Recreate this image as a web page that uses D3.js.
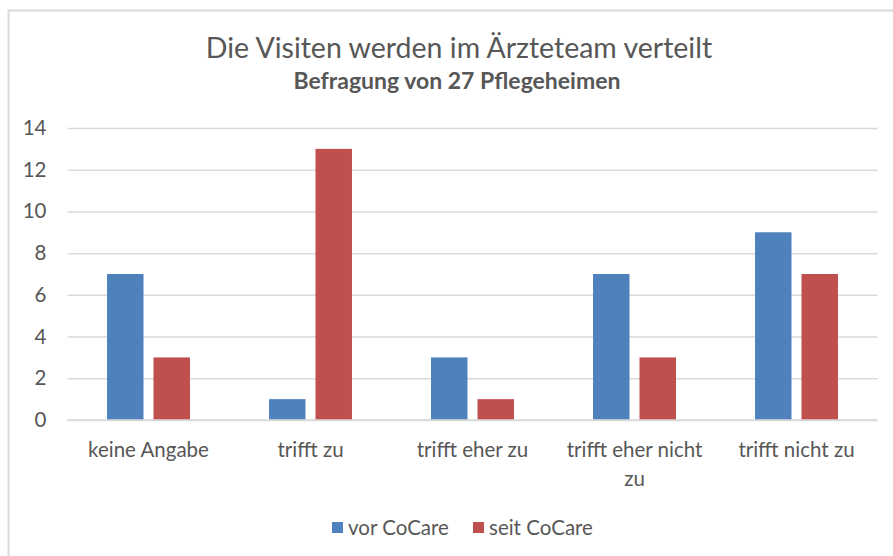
<!DOCTYPE html>
<html>
<head>
<meta charset="utf-8">
<script src="https://cdn.jsdelivr.net/npm/d3@7"></script>
<style>
  html, body { margin: 0; padding: 0; background: #fff; }
  svg { display: block; font-family: Lato, "Open Sans", sans-serif; }
</style>
</head>
<body>
<svg id="chart" width="893" height="556"></svg>
<script>
// Antworten der Pflegeheime vor und seit Einführung von CoCare
const categories = [["keine Angabe"], ["trifft zu"], ["trifft eher zu"], ["trifft eher nicht", "zu"], ["trifft nicht zu"]];
const seriesNames = ["vor CoCare", "seit CoCare"];
const vorCoCare = [7, 1, 3, 7, 9];
const seitCoCare = [3, 13, 1, 3, 7];
const yTicks = [0, 2, 4, 6, 8, 10, 12, 14];
const colors = ["#4F81BD", "#C0504D"];

const svg = d3.select("#chart");
const textColor = "#575757";
const labelSize = "20.5px";

// outer frame of the chart area
svg.append("rect")
  .attr("x", 8.5).attr("y", 10.5)
  .attr("width", 900).attr("height", 560)
  .attr("fill", "#fff")
  .attr("stroke", "#D9D9D9").attr("stroke-width", 2);

// titles
svg.append("text")
  .attr("x", 459).attr("y", 58)
  .attr("text-anchor", "middle")
  .attr("fill", textColor)
  .style("font-size", "28.5px")
  .text("Die Visiten werden im Ärzteteam verteilt");
svg.append("text")
  .attr("x", 457).attr("y", 89)
  .attr("text-anchor", "middle")
  .attr("fill", textColor)
  .style("font-size", "23px")
  .style("font-weight", "bold")
  .text("Befragung von 27 Pflegeheimen");

// scales
const plot = { left: 67.5, right: 877.5, top: 128, bottom: 420 };
const keys = categories.map(c => c.join(" "));
const x0 = d3.scaleBand().domain(keys).range([plot.left, plot.right])
  .paddingInner(0.488).paddingOuter(0.244);
const x1 = d3.scaleBand().domain(seriesNames).range([0, x0.bandwidth()]).paddingInner(0.215);
const y = d3.scaleLinear().domain([0, 14]).range([plot.bottom, plot.top]);

// horizontal gridlines + y labels
const yAxis = d3.axisLeft(y).tickValues(yTicks)
  .tickSize(-(plot.right - plot.left)).tickPadding(21).tickFormat(d3.format("d"));
const gy = svg.append("g").attr("transform", `translate(${plot.left},0)`).call(yAxis);
gy.select(".domain").remove();
gy.selectAll(".tick line").attr("stroke", "#D9D9D9").attr("stroke-width", 1.5);
gy.selectAll(".tick text").attr("fill", textColor).style("font-size", labelSize)
  .style("font-family", "Lato, sans-serif");

// bars
const rows = keys.map((k, i) => ({ key: k, values: [vorCoCare[i], seitCoCare[i]] }));
const groups = svg.append("g").selectAll("g").data(rows).join("g")
  .attr("transform", d => `translate(${x0(d.key)},0)`);
groups.selectAll("rect")
  .data(d => d.values.map((v, j) => ({ name: seriesNames[j], value: v, j })))
  .join("rect")
  .attr("x", d => x1(d.name))
  .attr("y", d => y(d.value))
  .attr("width", x1.bandwidth())
  .attr("height", d => y(0) - y(d.value))
  .attr("fill", d => colors[d.j]);

// baseline
svg.append("line")
  .attr("x1", plot.left).attr("x2", plot.right)
  .attr("y1", y(0)).attr("y2", y(0))
  .attr("stroke", "#D9D9D9").attr("stroke-width", 1.5);

// category labels
const xLabels = svg.append("g").selectAll("text").data(categories).join("text")
  .attr("x", (d, i) => x0(keys[i]) + x0.bandwidth() / 2)
  .attr("y", 457)
  .attr("text-anchor", "middle")
  .attr("fill", textColor)
  .style("font-size", labelSize);
xLabels.selectAll("tspan").data(d => d).join("tspan")
  .attr("x", function () { return this.parentNode.getAttribute("x"); })
  .attr("dy", (d, i) => i === 0 ? 0 : 29)
  .text(d => d);

// legend
const legendItems = [{ name: seriesNames[0], x: 332 }, { name: seriesNames[1], x: 473 }];
const lg = svg.append("g").selectAll("g").data(legendItems).join("g")
  .attr("transform", d => `translate(${d.x},0)`);
lg.append("rect").attr("x", 0).attr("y", 522).attr("width", 11).attr("height", 11)
  .attr("fill", (d, i) => colors[i]);
lg.append("text").attr("x", 16).attr("y", 535)
  .attr("fill", textColor).style("font-size", labelSize)
  .text(d => d.name);
</script>
</body>
</html>
